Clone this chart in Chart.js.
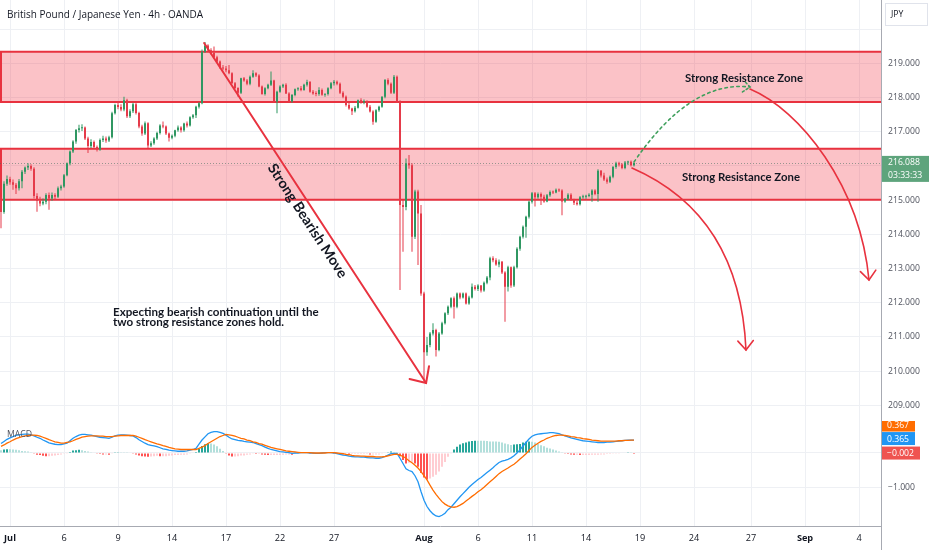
<!DOCTYPE html>
<html>
<head>
<meta charset="utf-8">
<script src="https://cdn.jsdelivr.net/npm/chart.js@4.4.1/dist/chart.umd.min.js"></script>
<style>
  body { margin: 0; background: #fff; }
  #wrap { position: relative; width: 932px; height: 550px; overflow: hidden; }
  canvas { position: absolute; left: 0; }
</style>
</head>
<body>
<div id="wrap">
  <canvas id="main" width="932" height="421" style="top:0"></canvas>
  <canvas id="macd" width="932" height="129" style="top:421px"></canvas>
</div>
<script>
// GBP/JPY 4h candles (one entry per candle)
const opens = [
  215.00,214.65,215.48,215.62,215.52,215.45,215.35,215.55,215.83,215.95,
  216.00,215.92,215.12,214.98,214.90,214.95,215.15,215.05,215.15,215.10,
  215.35,215.40,215.73,216.08,216.42,216.71,217.05,217.10,217.12,216.80,
  216.58,216.70,216.55,216.48,216.76,216.80,216.74,216.84,217.54,217.78,
  217.72,217.65,217.92,217.45,217.60,217.80,217.55,217.15,216.95,217.25,
  216.60,216.66,216.80,216.96,217.18,217.15,216.95,216.82,216.88,217.04,
  217.12,217.04,217.24,217.18,217.42,217.48,217.73,217.83,219.34,219.52,
  219.38,219.30,219.18,219.05,218.88,218.85,218.80,218.71,218.42,218.28,
  218.14,218.56,218.50,218.40,218.61,218.71,218.64,218.32,218.10,218.27,
  218.37,218.50,217.88,218.17,218.32,218.37,218.12,217.88,218.07,218.24,
  218.27,218.22,218.37,218.45,218.17,218.12,218.10,218.22,218.08,218.10,
  218.27,218.42,218.46,218.40,218.14,218.02,217.78,217.68,217.60,217.70,
  217.92,217.86,217.90,217.73,217.59,217.29,217.63,217.73,218.02,218.51,
  218.40,218.14,218.61,217.88,214.86,214.80,216.08,216.02,213.93,215.25,
  214.61,212.27,210.55,210.76,211.10,211.20,210.62,211.10,211.40,211.69,
  211.88,212.13,211.88,212.27,212.15,212.27,211.98,212.15,212.47,212.40,
  212.50,212.36,212.58,212.74,213.30,213.24,213.12,213.20,212.88,212.47,
  213.04,212.50,213.04,213.58,213.93,214.22,214.51,214.95,215.20,215.08,
  215.18,215.10,214.96,215.14,215.24,215.22,215.30,215.28,214.96,215.04,
  215.16,215.00,214.92,214.88,215.08,215.10,215.12,215.16,215.28,215.18,
  215.86,215.72,215.60,215.54,215.68,215.97,216.08,216.04,215.94,216.10,
  216.12,216.02
];
const highs = [
  215.10,215.55,215.72,215.68,215.60,215.50,215.62,215.88,215.98,216.08,
  216.05,215.96,215.20,215.10,215.05,215.20,215.22,215.22,215.20,215.40,
  215.45,215.76,216.10,216.45,216.75,217.08,217.20,217.22,217.15,216.85,
  216.78,216.74,216.60,216.80,216.88,216.86,216.88,217.58,217.82,217.88,
  217.80,218.02,217.96,217.66,217.85,217.84,217.58,217.20,217.30,217.28,
  216.72,216.84,217.00,217.22,217.30,217.18,216.98,216.92,217.06,217.18,
  217.16,217.26,217.30,217.45,217.52,217.76,217.86,219.40,219.62,219.56,
  219.44,219.49,219.22,219.08,218.95,218.92,218.95,218.74,218.45,218.30,
  218.58,218.60,218.54,218.64,218.80,218.74,218.68,218.35,218.30,218.40,
  218.76,218.52,218.20,218.36,218.40,218.42,218.15,218.10,218.26,218.30,
  218.34,218.40,218.52,218.48,218.22,218.18,218.30,218.26,218.12,218.30,
  218.45,218.51,218.50,218.44,218.18,218.06,217.84,217.70,217.75,217.94,
  217.98,217.94,217.92,217.78,217.63,217.66,217.76,218.04,218.54,218.56,
  218.44,218.66,218.64,217.92,215.00,216.22,216.32,216.08,215.30,215.30,
  214.86,212.32,211.00,211.14,211.40,211.24,211.14,211.44,211.72,211.92,
  212.16,212.18,212.30,212.30,212.30,212.30,212.20,212.56,212.52,212.54,
  212.52,212.62,212.78,213.34,213.36,213.30,213.26,213.22,212.92,213.08,
  213.06,213.08,213.62,213.96,214.26,214.54,214.98,215.24,215.24,215.22,
  215.22,215.16,215.18,215.28,215.28,215.34,215.34,215.32,215.06,215.20,
  215.20,215.04,214.98,215.12,215.16,215.16,215.20,215.32,215.32,215.90,
  215.88,215.80,215.66,215.72,216.00,216.12,216.12,216.08,216.14,216.15,
  216.16,216.10
];
const lows = [
  214.18,214.60,215.42,215.45,215.30,215.18,215.28,215.35,215.76,215.88,
  215.86,215.05,214.66,214.82,214.85,214.88,214.72,214.98,215.02,215.06,
  215.28,215.36,215.70,216.02,216.38,216.65,216.98,217.02,216.76,216.38,
  216.52,216.50,216.42,216.44,216.70,216.68,216.70,216.80,217.50,217.66,
  217.60,217.60,217.40,217.40,217.55,217.50,217.10,216.88,216.90,216.52,
  216.55,216.62,216.76,216.92,217.10,216.90,216.71,216.78,216.84,217.00,
  216.98,217.00,217.12,217.15,217.38,217.40,217.68,217.80,219.30,219.34,
  219.26,219.14,219.02,218.84,218.80,218.74,218.68,218.40,218.25,218.02,
  218.10,218.46,218.36,218.36,218.58,218.60,218.30,218.08,218.06,218.24,
  218.34,217.86,217.54,218.14,218.28,218.10,217.86,217.85,218.04,218.20,
  218.18,218.20,218.32,218.14,218.08,218.04,218.05,218.05,218.02,218.06,
  218.24,218.35,218.36,218.10,217.98,217.74,217.64,217.49,217.56,217.68,
  217.82,217.80,217.70,217.56,217.20,217.26,217.58,217.70,217.98,218.36,
  218.10,218.10,217.84,212.37,213.49,214.70,215.92,213.49,213.86,213.10,
  212.20,209.69,210.45,210.70,211.04,210.43,210.58,211.06,211.36,211.64,
  211.84,211.54,211.84,212.10,212.12,211.95,211.94,212.12,212.36,212.34,
  212.30,212.32,212.54,212.66,213.18,213.08,213.04,212.84,211.44,212.33,
  212.44,212.46,213.00,213.52,213.88,213.90,214.46,214.90,214.81,215.04,
  214.86,214.92,214.94,215.10,215.18,215.20,215.24,214.56,214.92,215.00,
  214.98,214.86,214.84,214.84,215.04,215.04,215.08,214.95,215.14,214.95,
  215.66,215.56,215.48,215.50,215.64,215.92,215.98,215.90,215.90,216.03,
  215.98,215.98
];
const closes = [
  214.65,215.48,215.62,215.52,215.45,215.35,215.55,215.83,215.95,216.00,
  215.92,215.12,214.98,214.90,214.95,215.15,215.05,215.15,215.10,215.35,
  215.40,215.73,216.08,216.42,216.71,217.05,217.10,217.12,216.80,216.58,
  216.70,216.55,216.48,216.76,216.80,216.74,216.84,217.54,217.78,217.72,
  217.65,217.92,217.45,217.60,217.80,217.55,217.15,216.95,217.25,216.60,
  216.66,216.80,216.96,217.18,217.15,216.95,216.82,216.88,217.04,217.12,
  217.04,217.24,217.18,217.42,217.48,217.73,217.83,219.34,219.52,219.38,
  219.30,219.18,219.05,218.88,218.85,218.80,218.71,218.42,218.28,218.14,
  218.56,218.50,218.40,218.61,218.71,218.64,218.32,218.10,218.27,218.37,
  218.50,217.88,218.17,218.32,218.37,218.12,217.88,218.07,218.24,218.27,
  218.22,218.37,218.45,218.17,218.12,218.10,218.22,218.08,218.10,218.27,
  218.42,218.46,218.40,218.14,218.02,217.78,217.68,217.60,217.70,217.92,
  217.86,217.90,217.73,217.59,217.29,217.63,217.73,218.02,218.51,218.40,
  218.14,218.61,217.88,214.86,214.80,216.08,216.02,213.93,215.25,214.61,
  212.27,210.55,210.76,211.10,211.20,210.62,211.10,211.40,211.69,211.88,
  212.13,211.88,212.27,212.15,212.27,211.98,212.15,212.47,212.40,212.50,
  212.36,212.58,212.74,213.30,213.24,213.12,213.20,212.88,212.47,213.04,
  212.50,213.04,213.58,213.93,214.22,214.51,214.95,215.20,215.08,215.18,
  215.10,214.96,215.14,215.24,215.22,215.30,215.28,214.96,215.04,215.16,
  215.00,214.92,214.88,215.08,215.10,215.12,215.16,215.28,215.18,215.86,
  215.72,215.60,215.54,215.68,215.97,216.08,216.04,215.94,216.10,216.12,
  216.02,216.088
];

// MACD (12,26,9) pane
const macdLine = [
  0.27,0.33,0.39,0.43,0.47,0.50,0.52,0.53,0.54,0.54,
  0.52,0.49,0.45,0.42,0.37,0.33,0.29,0.27,0.25,0.24,
  0.24,0.26,0.28,0.35,0.42,0.47,0.51,0.53,0.53,0.52,
  0.51,0.49,0.47,0.45,0.44,0.43,0.42,0.45,0.49,0.51,
  0.52,0.52,0.51,0.50,0.49,0.44,0.38,0.33,0.28,0.24,
  0.22,0.20,0.18,0.15,0.12,0.10,0.08,0.07,0.06,0.05,
  0.05,0.05,0.06,0.08,0.10,0.13,0.25,0.37,0.46,0.55,
  0.59,0.61,0.61,0.59,0.56,0.51,0.45,0.40,0.38,0.36,
  0.35,0.33,0.32,0.31,0.30,0.27,0.24,0.21,0.17,0.13,
  0.10,0.08,0.06,0.04,0.03,0.02,0.01,-0.01,0.00,0.00,
  0.01,0.01,0.01,0.00,0.00,-0.01,-0.01,0.00,0.01,0.01,
  0.01,0.00,-0.02,-0.04,-0.06,-0.07,-0.09,-0.10,-0.11,-0.11,
  -0.12,-0.12,-0.13,-0.14,-0.14,-0.15,-0.15,-0.13,-0.10,-0.06,
  -0.02,-0.01,-0.01,-0.15,-0.30,-0.45,-0.50,-0.53,-0.65,-0.82,
  -1.10,-1.35,-1.53,-1.65,-1.74,-1.80,-1.82,-1.78,-1.72,-1.62,
  -1.55,-1.45,-1.35,-1.25,-1.16,-1.07,-0.98,-0.90,-0.83,-0.76,
  -0.70,-0.63,-0.56,-0.49,-0.42,-0.34,-0.27,-0.23,-0.21,-0.18,
  -0.14,-0.08,0.00,0.09,0.20,0.30,0.40,0.48,0.52,0.54,
  0.55,0.56,0.57,0.58,0.58,0.57,0.55,0.52,0.49,0.46,
  0.43,0.41,0.39,0.37,0.35,0.34,0.33,0.32,0.31,0.30,
  0.30,0.30,0.31,0.31,0.32,0.33,0.34,0.35,0.36,0.37,
  0.37,0.365
];
const signalLine = [
  0.19,0.23,0.28,0.32,0.37,0.41,0.44,0.47,0.49,0.50,
  0.51,0.51,0.50,0.48,0.45,0.42,0.38,0.35,0.32,0.30,
  0.28,0.28,0.30,0.32,0.35,0.39,0.42,0.45,0.47,0.48,
  0.49,0.49,0.49,0.48,0.48,0.47,0.47,0.47,0.48,0.49,
  0.50,0.50,0.50,0.50,0.50,0.48,0.45,0.42,0.38,0.35,
  0.32,0.29,0.26,0.24,0.21,0.19,0.16,0.14,0.12,0.11,
  0.10,0.10,0.10,0.10,0.10,0.10,0.13,0.17,0.21,0.27,
  0.32,0.37,0.42,0.47,0.50,0.53,0.52,0.50,0.48,0.45,
  0.42,0.40,0.37,0.35,0.32,0.30,0.27,0.25,0.22,0.19,
  0.16,0.14,0.12,0.10,0.08,0.06,0.05,0.04,0.03,0.02,
  0.01,0.01,0.01,0.01,0.00,0.00,0.00,0.00,0.00,0.01,
  0.01,0.01,0.00,-0.01,-0.02,-0.04,-0.05,-0.07,-0.08,-0.08,
  -0.09,-0.09,-0.10,-0.10,-0.10,-0.11,-0.11,-0.11,-0.10,-0.08,
  -0.06,-0.04,-0.03,-0.06,-0.10,-0.15,-0.22,-0.28,-0.35,-0.43,
  -0.53,-0.65,-0.77,-0.92,-1.06,-1.18,-1.29,-1.39,-1.46,-1.51,
  -1.54,-1.55,-1.53,-1.49,-1.44,-1.37,-1.31,-1.24,-1.18,-1.11,
  -1.05,-0.98,-0.90,-0.82,-0.75,-0.67,-0.59,-0.53,-0.48,-0.43,
  -0.37,-0.32,-0.25,-0.17,-0.10,-0.02,0.07,0.16,0.22,0.28,
  0.33,0.37,0.42,0.45,0.48,0.50,0.51,0.51,0.50,0.49,
  0.47,0.46,0.44,0.43,0.41,0.40,0.39,0.37,0.36,0.35,
  0.34,0.34,0.34,0.34,0.34,0.34,0.35,0.35,0.36,0.36,
  0.366,0.367
];

// time axis: candle index of each date label
const tickPos = [3, 21, 39, 57, 75, 93, 111, 141, 159, 177, 195, 213, 231, 250, 268, 286];
const tickLabels = ['Jul', '6', '9', '14', '17', '22', '27', 'Aug', '6', '11', '14', '19', '24', '27', 'Sep', '4'];
const priceTicks = [209, 210, 211, 212, 213, 214, 215, 216, 217, 218, 219, 220];
const macdTicks = [-1, 0];
const lastTimer = '03:33:33';

// colours
const UP = '#2f9762', DOWN = '#e53b4a';
const GRID = '#eef0f4', AXIS_TXT = '#50535e', AXIS_LINE = '#a7aab2';
const FONT = '"Open Sans", sans-serif';
const ANN_FONT = 'Lato, sans-serif';

// x range so that one candle = 3px on the 881px wide plot
const X_MIN = -1 / 3, X_MAX = 880 / 3;

const hist = macdLine.map((m, i) => +(m - signalLine[i]).toFixed(3));

// zones and drawings, in data units (candle index, price)
const zones = [{lo: 217.87, hi: 219.34}, {lo: 215.01, hi: 216.50}];
const bearLine = {from: [67.7, 219.594], to: [141.7, 209.652]};
const greenPath = {from: [211, 216.114], cp: [229.67, 218.512], to: [249.67, 218.307]};
const redPath1 = {from: [210.33, 215.939], cp: [246.33, 214.564], to: [248.33, 210.617]};
const redPath2 = {from: [249.67, 218.249], cp1: [266.33, 217.635], cp2: [286.33, 215.441], to: [289.33, 212.664]};

function fitFont(ctx, text, weight, family, width) {
  ctx.font = weight + ' 100px ' + family;
  const size = 100 * width / ctx.measureText(text).width;
  ctx.font = weight + ' ' + size.toFixed(2) + 'px ' + family;
  return size;
}

function arrowHead(ctx, tx, ty, fx, fy, len, deg) {
  const a = Math.atan2(fy - ty, fx - tx), d = deg * Math.PI / 180;
  ctx.beginPath();
  ctx.moveTo(tx + len * Math.cos(a - d), ty + len * Math.sin(a - d));
  ctx.lineTo(tx, ty);
  ctx.lineTo(tx + len * Math.cos(a + d), ty + len * Math.sin(a + d));
  ctx.stroke();
}

const mainDecor = {
  id: 'mainDecor',
  beforeDatasetsDraw(chart) {
    const {ctx, chartArea: a, scales: {x, y}} = chart;
    ctx.save();
    const x0 = x.getPixelForValue(0);
    zones.forEach(z => {
      const yt = y.getPixelForValue(z.hi), yb = y.getPixelForValue(z.lo);
      ctx.fillStyle = 'rgba(242, 54, 69, 0.30)';
      ctx.fillRect(x0, yt, a.right - x0, yb - yt);
      ctx.strokeStyle = '#e8323f';
      ctx.lineWidth = 2;
      ctx.beginPath();
      ctx.moveTo(a.right, yt); ctx.lineTo(x0, yt); ctx.lineTo(x0, yb); ctx.lineTo(a.right, yb);
      ctx.stroke();
    });
    // last price line
    const yl = Math.round(y.getPixelForValue(closes[closes.length - 1])) + 0.5;
    ctx.strokeStyle = 'rgba(70, 110, 95, 0.55)';
    ctx.lineWidth = 1;
    ctx.setLineDash([1, 2]);
    ctx.beginPath(); ctx.moveTo(a.left, yl); ctx.lineTo(a.right, yl); ctx.stroke();
    ctx.restore();
  },
  afterDatasetsDraw(chart) {
    const {ctx, scales: {x, y}} = chart;
    const P = p => [x.getPixelForValue(p[0]), y.getPixelForValue(p[1])];
    ctx.save();
    ctx.lineCap = 'round';

    // strong bearish move line + arrow
    const [bx0, by0] = P(bearLine.from), [bx1, by1] = P(bearLine.to);
    ctx.strokeStyle = '#e8323f';
    ctx.lineWidth = 2;
    ctx.beginPath(); ctx.moveTo(bx0, by0); ctx.lineTo(bx1, by1); ctx.stroke();
    arrowHead(ctx, bx1, by1, bx0, by0, 17, 43);

    // green dotted path
    const [g0x, g0y] = P(greenPath.from), [gcx, gcy] = P(greenPath.cp), [g1x, g1y] = P(greenPath.to);
    ctx.strokeStyle = '#3f9f5c';
    ctx.lineWidth = 1.6;
    ctx.setLineDash([2.5, 3.5]);
    ctx.beginPath(); ctx.moveTo(g0x, g0y); ctx.quadraticCurveTo(gcx, gcy, g1x, g1y); ctx.stroke();
    ctx.setLineDash([2, 2.5]);
    arrowHead(ctx, g1x, g1y, gcx, gcy, 9, 40);
    ctx.setLineDash([]);

    // red curved arrows
    ctx.strokeStyle = '#e8323f';
    ctx.lineWidth = 1.6;
    const [r0x, r0y] = P(redPath1.from), [rcx, rcy] = P(redPath1.cp), [r1x, r1y] = P(redPath1.to);
    ctx.beginPath(); ctx.moveTo(r0x, r0y); ctx.quadraticCurveTo(rcx, rcy, r1x, r1y); ctx.stroke();
    arrowHead(ctx, r1x, r1y, rcx, rcy, 12, 40);
    const [s0x, s0y] = P(redPath2.from), [s1x, s1y] = P(redPath2.cp1),
          [s2x, s2y] = P(redPath2.cp2), [s3x, s3y] = P(redPath2.to);
    ctx.beginPath(); ctx.moveTo(s0x, s0y); ctx.bezierCurveTo(s1x, s1y, s2x, s2y, s3x, s3y); ctx.stroke();
    arrowHead(ctx, s3x, s3y, s2x, s2y, 12, 40);

    // annotation texts
    ctx.fillStyle = '#131722';
    ctx.textBaseline = 'middle';
    ctx.textAlign = 'center';
    let [tx, ty] = P([247.67, 218.57]);
    fitFont(ctx, 'Strong Resistance Zone', 'bold', ANN_FONT, 118);
    ctx.fillText('Strong Resistance Zone', tx, ty);
    [tx, ty] = P([246.67, 215.675]);
    ctx.fillText('Strong Resistance Zone', tx, ty);

    [tx, ty] = P([102.17, 214.39]);
    ctx.save();
    ctx.translate(tx, ty);
    ctx.rotate(Math.atan2(by1 - by0, bx1 - bx0));
    fitFont(ctx, 'Strong Bearish Move', 'bold', ANN_FONT, 133);
    ctx.fillText('Strong Bearish Move', 0, 0);
    ctx.restore();

    ctx.textAlign = 'left';
    [tx, ty] = P([37.33, 211.728]);
    fitFont(ctx, 'Expecting bearish continuation until the', 'bold', ANN_FONT, 206);
    ctx.fillText('Expecting bearish continuation until the', tx, ty);
    ctx.fillText('two strong resistance zones hold.', tx, ty + 10.5);
    ctx.restore();
  },
  afterDraw(chart) {
    const {ctx, chartArea: a, scales: {y}} = chart;
    ctx.save();
    // title
    ctx.fillStyle = '#131722';
    ctx.textBaseline = 'middle';
    ctx.textAlign = 'left';
    fitFont(ctx, 'British Pound / Japanese Yen · 4h · OANDA', '500', FONT, 196);
    ctx.fillText('British Pound / Japanese Yen · 4h · OANDA', 7, 15);

    // price axis
    ctx.fillStyle = '#fff';
    ctx.fillRect(a.right, 0, chart.width - a.right, chart.height);
    ctx.strokeStyle = AXIS_LINE;
    ctx.lineWidth = 1;
    ctx.beginPath(); ctx.moveTo(a.right + 0.5, 0); ctx.lineTo(a.right + 0.5, chart.height); ctx.stroke();
    const size = fitFont(ctx, '219.000', 'normal', FONT, 32);
    ctx.fillStyle = AXIS_TXT;
    y.ticks.forEach(t => {
      const yy = y.getPixelForValue(t.value);
      if (yy > 40) ctx.fillText(t.value.toFixed(3), a.right + 7, yy);
    });

    // JPY box
    ctx.fillStyle = '#fff';
    ctx.strokeStyle = '#e0e3eb';
    ctx.fillRect(885.5, 3.5, 42, 22);
    ctx.strokeRect(885.5, 3.5, 42, 22);
    ctx.fillStyle = '#131722';
    ctx.fillText('JPY', 891, 14.5);

    // last price label
    const last = closes[closes.length - 1];
    const yl = y.getPixelForValue(last);
    ctx.fillStyle = '#5ea47c';
    ctx.fillRect(a.right + 1, yl - 7, 47, 26);
    ctx.fillStyle = '#fff';
    ctx.fillText(last.toFixed(3), a.right + 7, yl);
    ctx.font = 'normal ' + size.toFixed(2) + 'px ' + FONT;
    ctx.fillText(lastTimer, a.right + 7, yl + 12.5);
    ctx.restore();
  }
};

const macdDecor = {
  id: 'macdDecor',
  afterDraw(chart) {
    const {ctx, chartArea: a, scales: {x, y}} = chart;
    ctx.save();
    ctx.fillStyle = '#fff';
    ctx.fillRect(a.right, 0, chart.width - a.right, chart.height);
    ctx.strokeStyle = AXIS_LINE;
    ctx.lineWidth = 1;
    ctx.beginPath();
    ctx.moveTo(a.right + 0.5, 0); ctx.lineTo(a.right + 0.5, chart.height);
    ctx.moveTo(0, a.bottom + 0.5); ctx.lineTo(a.right, a.bottom + 0.5);
    ctx.stroke();

    const size = fitFont(ctx, '219.000', 'normal', FONT, 32);
    ctx.textBaseline = 'middle';
    // date labels
    ctx.textAlign = 'center';
    ctx.fillStyle = '#131722';
    tickPos.forEach((v, i) => {
      const bold = isNaN(+tickLabels[i]);
      ctx.font = (bold ? 'bold ' : 'normal ') + (size + 0.5).toFixed(2) + 'px ' + FONT;
      ctx.fillText(tickLabels[i], x.getPixelForValue(v), a.bottom + 12);
    });

    // value axis
    ctx.textAlign = 'left';
    ctx.font = 'normal ' + size.toFixed(2) + 'px ' + FONT;
    ctx.fillStyle = AXIS_TXT;
    ctx.fillText((-1).toFixed(3).replace('-', '\u22121'.slice(0, 1)), a.right + 7, y.getPixelForValue(-1));

    // current value boxes
    const n = macdLine.length - 1;
    const yh = y.getPixelForValue(hist[n]);
    const ym = Math.min(y.getPixelForValue(macdLine[n]), yh - 14.5);
    const ys = Math.min(y.getPixelForValue(signalLine[n]), ym - 13.5);
    const box = (val, yy, col, w) => {
      ctx.fillStyle = col;
      ctx.fillRect(a.right + 1, yy - 6.5, w, 13);
      ctx.fillStyle = '#fff';
      ctx.fillText(val.toFixed(3).replace('-', '\u2212'), a.right + 6, yy + 0.5);
    };
    box(signalLine[n], ys, '#ff6d00', 33);
    box(macdLine[n], ym, '#2196f3', 33);
    box(hist[n], yh, '#ef5350', 38);

    // pane title
    ctx.fillStyle = '#50535e';
    ctx.fillText('MACD', 7, 14);
    ctx.restore();
  }
};

const tickSetter = list => ax => { ax.ticks = list.map(v => ({value: v})); };
const xScale = h => ({
  type: 'linear', min: X_MIN, max: X_MAX, offset: false,
  afterBuildTicks: tickSetter(tickPos),
  afterFit: ax => { ax.height = h; },
  ticks: {display: false},
  grid: {color: GRID, drawTicks: false, offset: false},
  border: {display: false}
});
const yScale = (min, max, ticks) => ({
  position: 'right', min: min, max: max,
  afterBuildTicks: tickSetter(ticks),
  afterFit: ax => { ax.width = 51; },
  ticks: {display: false},
  grid: {color: GRID, drawTicks: false},
  border: {display: false}
});
const baseOpts = {
  responsive: false,
  animation: false,
  events: [],
  layout: {padding: 0},
  plugins: {legend: {display: false}, tooltip: {enabled: false}}
};

const idx = closes.map((c, i) => i);
const candleCol = c => closes[c.dataIndex] >= opens[c.dataIndex] ? UP : DOWN;

new Chart(document.getElementById('main'), {
  type: 'bar',
  data: {
    datasets: [
      {
        label: 'wick',
        data: idx.map(i => ({x: i, y: [lows[i], highs[i]]})),
        backgroundColor: candleCol,
        barThickness: 1,
        grouped: false,
        inflateAmount: 0,
        order: 2
      },
      {
        label: 'body',
        data: idx.map(i => ({x: i, y: [opens[i], closes[i]]})),
        backgroundColor: candleCol,
        barThickness: 2,
        minBarLength: 1,
        grouped: false,
        inflateAmount: 0,
        order: 1
      }
    ]
  },
  options: Object.assign({}, baseOpts, {
    scales: {x: xScale(0), y: yScale(208.541, 220.851, priceTicks)}
  }),
  plugins: [mainDecor]
});

new Chart(document.getElementById('macd'), {
  type: 'bar',
  data: {
    datasets: [
      {
        label: 'Histogram',
        data: idx.map(i => ({x: i, y: hist[i]})),
        backgroundColor: c => {
          const i = c.dataIndex, h = hist[i], prev = i ? hist[i - 1] : h;
          if (h >= 0) return h > prev ? '#26a69a' : '#b2dfdb';
          return h < prev ? '#ff5252' : '#ffcdd2';
        },
        barThickness: 2,
        grouped: false,
        inflateAmount: 0,
        order: 3
      },
      {
        type: 'line',
        label: 'MACD',
        data: idx.map(i => ({x: i, y: macdLine[i]})),
        borderColor: '#2196f3',
        borderWidth: 1.3,
        pointRadius: 0,
        order: 2
      },
      {
        type: 'line',
        label: 'Signal',
        data: idx.map(i => ({x: i, y: signalLine[i]})),
        borderColor: '#ff6d00',
        borderWidth: 1.3,
        pointRadius: 0,
        order: 1
      }
    ]
  },
  options: Object.assign({}, baseOpts, {
    scales: {x: xScale(24), y: yScale(-2.086, 0.914, macdTicks)}
  }),
  plugins: [macdDecor]
});
</script>
</body>
</html>
